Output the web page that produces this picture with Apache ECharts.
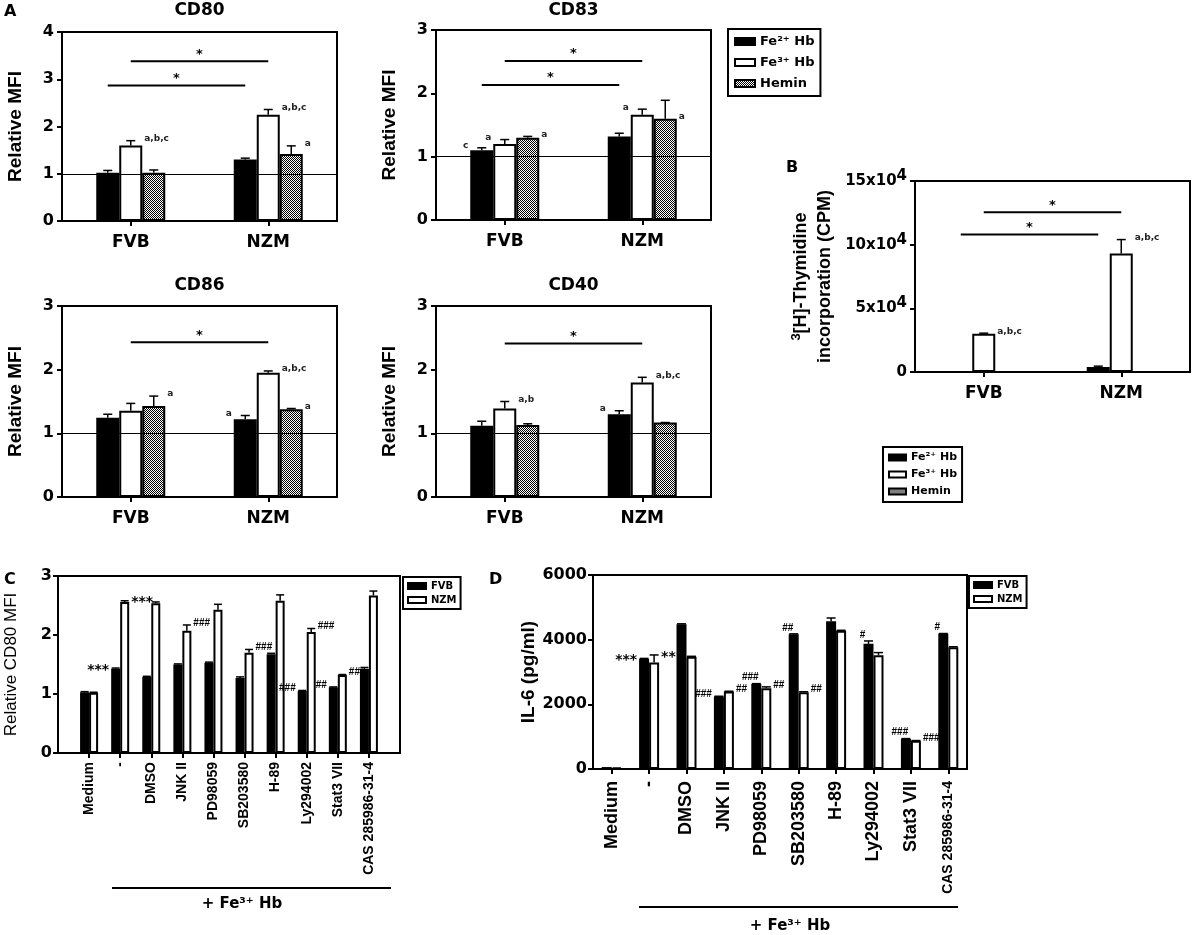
<!DOCTYPE html>
<html>
<head>
<meta charset="utf-8">
<script src="https://cdn.jsdelivr.net/npm/echarts@6/dist/echarts.min.js"></script>
<style>
  html, body { margin: 0; background: #fff; }
  #chart { width: 1192px; height: 935px; }
</style>
</head>
<body>
<div id="chart"></div>
<script>
// ---------- data ----------
const groups = ['FVB', 'NZM']
const hbNames = ['Fe²⁺ Hb', 'Fe³⁺ Hb', 'Hemin']
const strainNames = ['FVB', 'NZM']
const treatments = ['Medium', '-', 'DMSO', 'JNK II', 'PD98059', 'SB203580', 'H-89', 'Ly294002', 'Stat3 VII', 'CAS 285986-31-4']

// A: relative MFI, bar value and top of error bar, per Hb form
const cd80Fe2 = [1.02, 1.30], cd80Fe2Err = [1.07, 1.33]
const cd80Fe3 = [1.60, 2.25], cd80Fe3Err = [1.70, 2.36]
const cd80Hem = [1.02, 1.42], cd80HemErr = [1.08, 1.59]

const cd83Fe2 = [1.10, 1.32], cd83Fe2Err = [1.14, 1.37]
const cd83Fe3 = [1.20, 1.66], cd83Fe3Err = [1.27, 1.75]
const cd83Hem = [1.30, 1.60], cd83HemErr = [1.32, 1.89]

const cd86Fe2 = [1.245, 1.22], cd86Fe2Err = [1.30, 1.28]
const cd86Fe3 = [1.355, 1.95], cd86Fe3Err = [1.47, 1.98]
const cd86Hem = [1.43, 1.38], cd86HemErr = [1.585, 1.39]

const cd40Fe2 = [1.12, 1.30], cd40Fe2Err = [1.19, 1.355]
const cd40Fe3 = [1.39, 1.80], cd40Fe3Err = [1.50, 1.88]
const cd40Hem = [1.13, 1.17], cd40HemErr = [1.15, 1.17]

// B: 3H-thymidine incorporation (CPM)
const thyFe2 = [0, 4000], thyFe2Err = [null, 4600]
const thyFe3 = [30000, 93000], thyFe3Err = [30500, 104000]
const thyHem = [0, 0], thyHemErr = [null, null]

// C: relative CD80 MFI
const cFVB = [1.03, 1.43, 1.29, 1.50, 1.53, 1.27, 1.675, 1.05, 1.115, 1.43]
const cFVBErr = [1.04, 1.44, 1.30, 1.51, 1.54, 1.29, 1.69, 1.06, 1.12, 1.45]
const cNZM = [1.02, 2.56, 2.54, 2.07, 2.43, 1.70, 2.58, 2.05, 1.32, 2.67]
const cNZMErr = [1.03, 2.58, 2.56, 2.17, 2.52, 1.755, 2.68, 2.11, 1.33, 2.745]

// D: IL-6 (pg/ml)
const dFVB = [60, 3400, 4480, 2240, 2630, 4170, 4570, 3870, 930, 4180]
const dFVBErr = [null, 3420, 4490, 2250, 2640, 4180, 4670, 3960, 940, 4190]
const dNZM = [50, 3290, 3475, 2395, 2500, 2376, 4277, 3518, 873, 3765]
const dNZMErr = [null, 3527, 3485, 2405, 2540, 2390, 4290, 3600, 880, 3780]

// significance bars: [from group, to group, y, which bar]
const cd80Lines = [[0, 1, 2.87, 0], [0, 1, 3.38, 1]]
const cd83Lines = [[0, 1, 2.13, 0], [0, 1, 2.51, 1]]
const cd86Lines = [[0, 1, 2.43, 1]]
const cd40Lines = [[0, 1, 2.41, 1]]
const thyLines = [[0, 1, 108000, 0], [0, 1, 125400, 1]]

// notes: [group, bar, text, side, anchor]
const cd80Notes = [[0, 1, 'a,b,c', 'r'], [1, 1, 'a,b,c', 'r'], [1, 2, 'a', 'r']]
const cd83Notes = [[0, 0, 'c', 'l'], [0, 1, 'a', 'l'], [0, 2, 'a', 'r'], [1, 1, 'a', 'l'], [1, 2, 'a', 'r', 'bar']]
const cd86Notes = [[0, 2, 'a', 'r'], [1, 0, 'a', 'l'], [1, 1, 'a,b,c', 'r'], [1, 2, 'a', 'r']]
const cd40Notes = [[0, 1, 'a,b', 'r'], [1, 0, 'a', 'l'], [1, 1, 'a,b,c', 'r']]
const thyNotes = [[0, 1, 'a,b,c', 'r'], [1, 1, 'a,b,c', 'r']]
const cNotes = [[1, 0, '***', 'l'], [1, 1, '***', 'r'], [3, 1, '###', 'r'], [5, 1, '###', 'r'], [7, 0, '###', 'l'], [7, 1, '###', 'r'], [8, 0, '##', 'l'], [8, 1, '###', 'r']]
const dNotes = [[1, 0, '***', 'l'], [1, 1, '**', 'r'], [3, 0, '###', 'l'], [3, 1, '##', 'r'], [4, 0, '###', 't'], [4, 1, '##', 'r'], [5, 0, '##', 't'], [5, 1, '##', 'r'], [7, 0, '#', 't'], [8, 0, '###', 't'], [8, 1, '###', 'r'], [9, 0, '#', 't']]

// ---------- styles ----------
const HF = '"DejaVu Sans", sans-serif'
const RF = '"Liberation Sans", Arial, sans-serif'
const BLACK = '#000'

const checker = document.createElement('canvas')
checker.width = checker.height = 2
const cctx = checker.getContext('2d')
cctx.fillStyle = '#fff'
cctx.fillRect(0, 0, 2, 2)
cctx.fillStyle = '#000'
cctx.fillRect(0, 0, 1, 1)
cctx.fillRect(1, 1, 1, 1)

const hbStyles = [
  { color: '#000', borderColor: '#000', borderWidth: 1.5 },
  { color: '#fff', borderColor: '#000', borderWidth: 2 },
  { color: { image: checker, repeat: 'repeat' }, borderColor: '#000', borderWidth: 2 },
]
const strainStyles = [hbStyles[0], hbStyles[1]]

const axisLine = { show: true, onZero: false, lineStyle: { color: BLACK, width: 2 } }
const axisTick = { show: true, length: 5, lineStyle: { color: BLACK, width: 2 } }

function grid(left, top, width, height) {
  return { left, top, width, height, show: true, borderColor: BLACK, borderWidth: 2, backgroundColor: 'transparent', outerBoundsMode: 'none' }
}

function groupX(g) {
  return {
    type: 'category', gridIndex: g, data: groups,
    axisLine, axisTick: { ...axisTick, alignWithLabel: true },
    axisLabel: { color: BLACK, fontFamily: HF, fontWeight: 'bold', fontSize: 17, margin: 13 },
  }
}

function valueY(g, max, interval, name, nameGap, labelExtra, nameExtra) {
  return {
    type: 'value', gridIndex: g, min: 0, max, interval,
    axisLine, axisTick, splitLine: { show: false },
    axisLabel: { color: BLACK, fontFamily: HF, fontWeight: 'bold', fontSize: 16, margin: 8, formatter: v => String(v), ...labelExtra },
    name, nameLocation: 'middle', nameRotate: 90, nameGap,
    nameTextStyle: { color: BLACK, fontFamily: RF, fontWeight: 'bold', fontSize: 19, ...nameExtra },
  }
}

// ---------- series builders ----------
function barSet(g, names, vals, styles, bw, pad) {
  return vals.map((arr, k) => ({
    type: 'bar', name: names[k], xAxisIndex: g, yAxisIndex: g,
    data: pad ? [null, ...arr, null] : arr,
    barWidth: bw, barGap: '0%', itemStyle: styles[k], z: 2,
  }))
}

function errSeries(g, vals, errs, bw, capW, offset) {
  const n = vals.length
  const data = []
  vals.forEach((arr, k) => arr.forEach((v, i) => {
    const e = errs[k][i]
    if (e != null && v != null) data.push([i + offset, k, v, e])
  }))
  return {
    type: 'custom', xAxisIndex: g, yAxisIndex: g, data, encode: { x: 0, y: 3 }, z: 3, silent: true,
    renderItem(params, api) {
      const dx = (api.value(1) - (n - 1) / 2) * bw
      const p0 = api.coord([api.value(0), api.value(2)])
      const p1 = api.coord([api.value(0), api.value(3)])
      const x = p0[0] + dx
      return {
        type: 'group', children: [
          { type: 'line', shape: { x1: x, y1: p0[1], x2: x, y2: p1[1] }, style: { stroke: BLACK, lineWidth: 1.5 } },
          { type: 'line', shape: { x1: x - capW / 2, y1: p1[1], x2: x + capW / 2, y2: p1[1] }, style: { stroke: BLACK, lineWidth: 1.5 } },
        ],
      }
    },
  }
}

function sigSeries(g, lines, n, bw) {
  return {
    type: 'custom', xAxisIndex: g, yAxisIndex: g, data: lines, encode: { x: 0, y: 2 }, z: 3, silent: true,
    renderItem(params, api) {
      const dx = (api.value(3) - (n - 1) / 2) * bw
      const a = api.coord([api.value(0), api.value(2)])
      const b = api.coord([api.value(1), api.value(2)])
      const x1 = a[0] + dx, x2 = b[0] + dx
      return {
        type: 'group', children: [
          { type: 'line', shape: { x1, y1: a[1], x2, y2: a[1] }, style: { stroke: BLACK, lineWidth: 2 } },
          { type: 'text', style: { text: '*', x: (x1 + x2) / 2, y: a[1] - 7, align: 'center', verticalAlign: 'middle', textAlign: 'center', textVerticalAlign: 'middle', fill: BLACK, font: 'bold 13px ' + HF } },
        ],
      }
    },
  }
}

function noteSeries(g, vals, errs, notes, bw, offset, small) {
  const n = vals.length
  return {
    type: 'custom', xAxisIndex: g, yAxisIndex: g, z: 4, silent: true,
    data: notes.map(nt => [nt[0] + offset, vals[nt[1]][nt[0]]]),
    encode: { x: 0, y: 1 },
    renderItem(params, api) {
      const [i, k, text, side, anchor] = notes[params.dataIndex]
      const v = vals[k][i], e = errs[k][i]
      const top = anchor === 'bar' || e == null ? v : Math.max(v, e)
      const p = api.coord([i + offset, top])
      const c = p[0] + (k - (n - 1) / 2) * bw
      const star = text.includes('*')
      let x = c - 6, y = p[1] - 1, align = 'center', va = 'bottom'
      if (side === 'r') { x = c + bw / 2 + 2; align = 'left'; va = 'middle'; y = p[1] - 2 }
      if (side === 'l') { x = c - bw / 2 - 2; align = 'right'; va = 'middle'; y = p[1] - 2 }
      if (star) y += 4
      let font = 'bold 9px ' + HF
      if (!small) font = star ? 'bold 14px ' + HF : 'bold 10px ' + RF
      return {
        type: 'text',
        style: { text, x, y, align, verticalAlign: va, textAlign: align, textVerticalAlign: va, fill: small ? '#222' : BLACK, font },
      }
    },
  }
}

function refLine() {
  return { silent: true, symbol: 'none', label: { show: false }, lineStyle: { color: BLACK, width: 1, type: 'solid' }, data: [{ yAxis: 1 }] }
}

function hbPanel(g, vals, errs, lines, notes, withRef) {
  const bars = barSet(g, hbNames, vals, hbStyles, 23, false)
  if (withRef) bars[0].markLine = refLine()
  return [...bars, errSeries(g, vals, errs, 23, 9, 0), sigSeries(g, lines, 3, 23), noteSeries(g, vals, errs, notes, 23, 0, true)]
}

// ---------- chart ----------
const chart = echarts.init(document.getElementById('chart'))

const legendText = size => ({ color: BLACK, fontFamily: HF, fontWeight: 'bold', fontSize: size })
function legendBox(left, top, names, size, iw, ih, gap, pad) {
  return {
    left, top, orient: 'vertical', data: names, icon: 'rect', itemWidth: iw, itemHeight: ih, itemGap: gap,
    padding: pad, borderColor: BLACK, borderWidth: 2, textStyle: legendText(size), selectedMode: false,
  }
}

function txt(text, x, y, size, align, va, family) {
  return {
    type: 'text', silent: true,
    style: { text, x, y, align, verticalAlign: va, textAlign: align, textVerticalAlign: va, fill: BLACK, font: 'bold ' + size + 'px ' + (family || HF) },
  }
}

const option = {
  animation: false,
  backgroundColor: '#fff',
  grid: [
    grid(62, 32, 275, 189),
    grid(436, 30, 275, 190),
    grid(62, 306, 275, 191),
    grid(436, 306, 275, 191),
    grid(915, 181, 275, 191),
    grid(58, 576, 342, 177),
    grid(593, 575, 374, 194),
  ],
  xAxis: [
    groupX(0), groupX(1), groupX(2), groupX(3), groupX(4),
    {
      type: 'category', gridIndex: 5, data: ['', ...treatments, ''], boundaryGap: false,
      axisLine, axisTick: { ...axisTick, interval: i => i > 0 && i <= treatments.length },
      axisLabel: { interval: 0, rotate: 90, color: BLACK, fontFamily: RF, fontWeight: 'bold', fontSize: 14, margin: 9 },
    },
    {
      type: 'category', gridIndex: 6, data: treatments,
      axisLine, axisTick: { ...axisTick, alignWithLabel: true },
      axisLabel: {
        interval: 0, rotate: 90, color: BLACK, fontFamily: RF, fontWeight: 'bold', fontSize: 18, margin: 12,
        formatter: v => v.startsWith('CAS') ? '{s|' + v + '}' : v,
        rich: { s: { fontFamily: RF, fontWeight: 'bold', fontSize: 14, color: BLACK } },
      },
    },
  ],
  yAxis: [
    valueY(0, 4, 1, 'Relative MFI', 37),
    valueY(1, 3, 1, 'Relative MFI', 37),
    valueY(2, 3, 1, 'Relative MFI', 37),
    valueY(3, 3, 1, 'Relative MFI', 37),
    valueY(4, 150000, 50000, '{s|3}{n|[H]-Thymidine}\n{n|incorporation (CPM)}', 78,
      {
        formatter: v => v === 0 ? '{n|0}' : '{n|' + (v / 10000) + 'x10}{s|4}',
        rich: {
          n: { fontFamily: HF, fontWeight: 'bold', fontSize: 15, color: BLACK },
          s: { fontFamily: HF, fontWeight: 'bold', fontSize: 15, color: BLACK, padding: [0, 0, 10, 0] },
        },
      },
      {
        lineHeight: 24,
        rich: {
          n: { fontFamily: RF, fontWeight: 'bold', fontSize: 18, color: BLACK, lineHeight: 24 },
          s: { fontFamily: RF, fontWeight: 'bold', fontSize: 13, color: BLACK, padding: [0, 0, 9, 0] },
        },
      }),
    valueY(5, 3, 1, 'Relative CD80 MFI', 38, { margin: 6 }, { fontWeight: 'normal', fontSize: 17 }),
    valueY(6, 6000, 2000, 'IL-6 (pg/ml)', 54, { margin: 6 }),
  ],
  legend: [
    legendBox(728, 29, hbNames, 13, 20, 7, 8, [6, 6]),
    legendBox(883, 447, hbNames, 11, 17, 6, 6, [5, 5]),
    legendBox(403, 577, strainNames, 10, 18, 6, 4, [4, 4]),
    legendBox(969, 576, strainNames, 10, 18, 6, 4, [4, 4]),
  ],
  series: [
    ...hbPanel(0, [cd80Fe2, cd80Fe3, cd80Hem], [cd80Fe2Err, cd80Fe3Err, cd80HemErr], cd80Lines, cd80Notes, true),
    ...hbPanel(1, [cd83Fe2, cd83Fe3, cd83Hem], [cd83Fe2Err, cd83Fe3Err, cd83HemErr], cd83Lines, cd83Notes, true),
    ...hbPanel(2, [cd86Fe2, cd86Fe3, cd86Hem], [cd86Fe2Err, cd86Fe3Err, cd86HemErr], cd86Lines, cd86Notes, true),
    ...hbPanel(3, [cd40Fe2, cd40Fe3, cd40Hem], [cd40Fe2Err, cd40Fe3Err, cd40HemErr], cd40Lines, cd40Notes, true),
    ...hbPanel(4, [thyFe2, thyFe3, thyHem], [thyFe2Err, thyFe3Err, thyHemErr], thyLines, thyNotes, false),

    ...barSet(5, strainNames, [cFVB, cNZM], strainStyles, 9, true),
    errSeries(5, [cFVB, cNZM], [cFVBErr, cNZMErr], 9, 8, 1),
    noteSeries(5, [cFVB, cNZM], [cFVBErr, cNZMErr], cNotes, 9, 1, false),

    ...barSet(6, strainNames, [dFVB, dNZM], strainStyles, 10, false),
    errSeries(6, [dFVB, dNZM], [dFVBErr, dNZMErr], 10, 9, 0),
    noteSeries(6, [dFVB, dNZM], [dFVBErr, dNZMErr], dNotes, 10, 0, false),
  ],
  graphic: [
    txt('A', 4, 4, 16, 'left', 'top'),
    txt('B', 786, 160, 16, 'left', 'top'),
    txt('C', 4, 572, 16, 'left', 'top'),
    txt('D', 489, 572, 16, 'left', 'top'),
    txt('CD80', 199.5, 11, 17, 'center', 'middle'),
    txt('CD83', 573.5, 11, 17, 'center', 'middle'),
    txt('CD86', 199.5, 286, 17, 'center', 'middle'),
    txt('CD40', 573.5, 286, 17, 'center', 'middle'),
    { type: 'line', silent: true, shape: { x1: 112, y1: 888, x2: 391, y2: 888 }, style: { stroke: BLACK, lineWidth: 2 } },
    txt('+ Fe³⁺ Hb', 242, 904, 15, 'center', 'middle'),
    { type: 'line', silent: true, shape: { x1: 639, y1: 907, x2: 958, y2: 907 }, style: { stroke: BLACK, lineWidth: 2 } },
    txt('+ Fe³⁺ Hb', 790, 926, 15, 'center', 'middle'),
  ],
}

chart.setOption(option)
</script>
</body>
</html>
